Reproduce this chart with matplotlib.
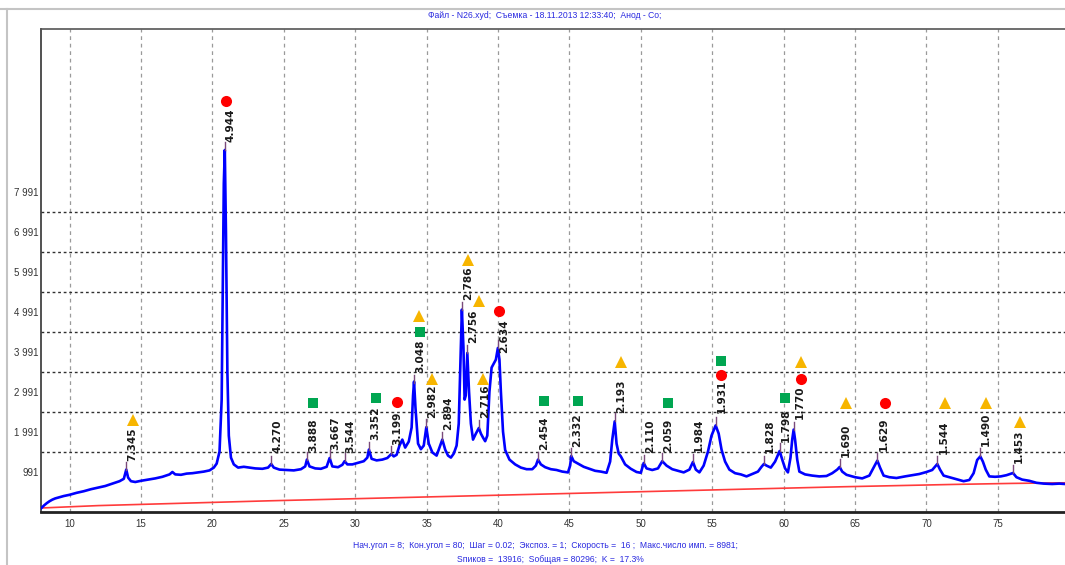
import matplotlib
matplotlib.use("Agg")
import matplotlib.pyplot as plt
from matplotlib.lines import Line2D

# ---------------- data ----------------
two_theta = [8.0, 8.2, 8.4, 8.6, 8.8, 9.0, 9.3, 9.6, 10.0, 10.5, 11.0, 11.5, 12.0, 12.5, 13.0, 13.5,
             13.8, 13.97, 14.1, 14.3, 14.6, 15.0, 15.5, 16.0, 16.5, 17.0, 17.2, 17.4, 17.8, 18.2, 18.6,
             19.0, 19.4, 19.8, 20.1, 20.3, 20.5, 20.65, 20.75, 20.8, 20.87, 20.95, 21.05, 21.15, 21.3,
             21.5, 21.8, 22.2, 22.6, 23.0, 23.5, 23.9, 24.12, 24.3, 24.7, 25.2, 25.7, 26.2, 26.5, 26.62,
             26.8, 27.2, 27.6, 28.0, 28.21, 28.4, 28.8, 29.1, 29.26, 29.45, 29.8, 30.2, 30.6, 30.85,
             30.96, 31.15, 31.5, 31.9, 32.25, 32.53, 32.7, 32.9, 33.1, 33.3, 33.5, 33.75, 33.95, 34.05,
             34.12, 34.22, 34.4, 34.6, 34.8, 34.98, 35.15, 35.4, 35.7, 35.9, 36.1, 36.3, 36.5, 36.7,
             36.9, 37.1, 37.25, 37.37, 37.47, 37.58, 37.66, 37.74, 37.85, 37.97, 38.1, 38.25, 38.45,
             38.66, 38.8, 38.95, 39.1, 39.25, 39.4, 39.55, 39.7, 39.85, 39.99, 40.1, 40.2, 40.35, 40.5,
             40.8, 41.2, 41.6, 42.0, 42.4, 42.65, 42.8, 43.0, 43.3, 43.7, 44.1, 44.5, 44.9, 45.05,
             45.13, 45.3, 45.6, 46.0, 46.4, 46.8, 47.2, 47.6, 47.85, 48.0, 48.17, 48.3, 48.45, 48.6,
             48.9, 49.3, 49.7, 50.0, 50.2, 50.4, 50.8, 51.2, 51.5, 51.8, 52.2, 52.6, 53.0, 53.4, 53.65,
             53.85, 54.1, 54.4, 54.7, 54.95, 55.24, 55.45, 55.65, 55.9, 56.2, 56.6, 57.0, 57.4, 57.8,
             58.2, 58.45, 58.62, 58.8, 59.1, 59.4, 59.72, 59.9, 60.1, 60.3, 60.48, 60.6, 60.7, 60.8,
             60.95, 61.1, 61.5, 62.0, 62.5, 63.0, 63.4, 63.75, 63.92, 64.1, 64.4, 65.0, 65.5, 66.0,
             66.3, 66.56, 66.75, 67.0, 67.4, 67.9, 68.5, 69.0, 69.5, 70.0, 70.4, 70.76, 70.95, 71.2,
             71.7, 72.2, 72.6, 73.0, 73.3, 73.55, 73.77, 73.95, 74.15, 74.4, 74.8, 75.2, 75.6, 76.06,
             76.3, 76.7, 77.2, 77.7, 78.2, 78.8, 79.3, 79.7]
counts = [80, 150, 210, 260, 300, 330, 360, 390, 420, 470, 510, 560, 600, 640, 700, 760,
          820, 1050, 850, 760, 740, 770, 800, 830, 870, 930, 990, 930, 920, 950, 960,
          980, 1000, 1030, 1100, 1200, 1500, 2800, 6500, 8200, 9040, 7000, 3500, 1900, 1350,
          1180, 1100, 1120, 1100, 1080, 1070, 1100, 1190, 1100, 1050, 1040, 1030, 1060, 1130, 1300,
          1130, 1080, 1070, 1120, 1340, 1130, 1110, 1170, 1260, 1180, 1180, 1220, 1260, 1350,
          1550, 1320, 1280, 1300, 1340, 1440, 1380, 1420, 1650, 1800, 1600, 1750, 2100, 2900,
          3250, 2600, 1700, 1560, 1650, 2110, 1700, 1480, 1400, 1600, 1800, 1550, 1400, 1350,
          1450, 1650, 2200, 3800, 5050, 4100, 2800, 2900, 3965, 3000, 2200, 1800, 1950,
          2090, 1950, 1850, 1760, 1900, 3000, 3600, 3700, 3800, 4090, 3800, 3000, 2000, 1540,
          1300, 1180, 1100, 1060, 1060, 1150, 1300, 1180, 1110, 1060, 1040, 1000, 980, 1150,
          1390, 1260, 1200, 1120, 1070, 1020, 1000, 970, 1250, 1800, 2255, 1700, 1450, 1380,
          1180, 1070, 990, 970, 1215, 1080, 1040, 1080, 1260, 1150, 1060, 1020, 980, 1050, 1240,
          1050, 980, 1150, 1500, 1900, 2155, 1950, 1550, 1250, 1050, 960, 930, 880, 940,
          1000, 1120, 1190, 1150, 1100, 1250, 1515, 1300, 1080, 980, 1350, 1800, 2050, 1800,
          1300, 1000, 930, 900, 880, 890, 960, 1050, 1115, 1000, 920, 860, 830, 900,
          1100, 1275, 1100, 900, 860, 840, 880, 910, 940, 990, 1040, 1190, 1050, 900,
          850, 800, 760, 790, 960, 1290, 1380, 1250, 1050, 880, 870, 880, 910, 965,
          860, 800, 770, 720, 700, 690, 700, 690]

bg_theta = [8.0, 12.0, 16.0, 20.0, 24.0, 28.0, 32.0, 36.0, 40.0, 44.0, 48.0, 52.0, 56.0,
            60.0, 64.0, 68.0, 72.0, 76.0, 79.7]
bg_counts = [90, 150, 190, 230, 270, 305, 340, 375, 410, 445, 480, 515, 550,
             585, 620, 650, 680, 705, 720]

peak_labels = ["7.345", "4.944", "4.270", "3.888", "3.667", "3.544", "3.352", "3.199", "3.048",
               "2.982", "2.894", "2.786", "2.756", "2.716", "2.634", "2.454", "2.332", "2.193",
               "2.110", "2.059", "1.984", "1.931", "1.828", "1.798", "1.770", "1.690", "1.629",
               "1.544", "1.490", "1.453"]
peak_theta = [13.97, 20.87, 24.12, 26.62, 28.21, 29.26, 30.96, 32.53, 34.12,
              34.98, 36.1, 37.47, 37.85, 38.66, 39.99, 42.8, 45.13, 48.17,
              50.2, 51.5, 53.65, 55.24, 58.62, 59.72, 60.7, 63.92, 66.56,
              70.76, 73.77, 76.06]
peak_top = [1250, 9240, 1390, 1500, 1540, 1460, 1750, 1640, 3415,
            2310, 2000, 5250, 4165, 2290, 4290, 1500, 1590, 2455,
            1415, 1460, 1440, 2355, 1390, 1715, 2250, 1315, 1475,
            1390, 1580, 1165]
label_base = [1265, 9240, 1458, 1500, 1540, 1458, 1790, 1665, 3460,
              2340, 2040, 5290, 4210, 2330, 3960, 1540, 1620, 2455,
              1458, 1500, 1500, 2455, 1458, 1750, 2310, 1373, 1523,
              1440, 1640, 1208]

tri_theta = [14.41, 34.5, 35.4, 37.89, 38.66, 38.94, 48.59, 61.19, 64.34, 71.27, 74.19, 76.53]
tri_counts = [2290, 4900, 3310, 6290, 5265, 3310, 3750, 3750, 2720, 2720, 2720, 2230]
sq_theta = [27.04, 31.43, 34.51, 43.22, 45.6, 51.9, 55.63, 60.11]
sq_counts = [2710, 2830, 4480, 2765, 2765, 2710, 3775, 2830]
circ_theta = [20.97, 32.92, 40.04, 55.63, 61.19, 67.12]
circ_counts = [10270, 2750, 5020, 3415, 3310, 2710]

x_ticks = [10, 15, 20, 25, 30, 35, 40, 45, 50, 55, 60, 65, 70, 75]
y_ticks = [991, 1991, 2991, 3991, 4991, 5991, 6991, 7991]
y_tick_labels = ["991", "1 991", "2 991", "3 991", "4 991", "5 991", "6 991", "7 991"]
y_grid = [1491, 2491, 3491, 4491, 5491, 6491, 7491]

title = "Файл - N26.xyd;  Съемка - 18.11.2013 12:33:40;  Анод - Co;"
footer1 = "Нач.угол = 8;  Кон.угол = 80;  Шаг = 0.02;  Экспоз. = 1;  Скорость =  16 ;  Макс.число имп. = 8981;"
footer2 = "Sпиков =  13916;  Sобщая = 80296;  K =  17.3%"

# ---------------- figure ----------------
W, H = 1065, 565
fig = plt.figure(figsize=(W / 100, H / 100), dpi=100)
ax = fig.add_axes([41 / W, 1 - 511.6 / H, (W - 41) / W, (511.6 - 29) / H])
ax.set_xlim(8, 79.7)
ax.set_ylim(0, 12065)

# grid
for g in x_ticks:
    ax.axvline(g, color="#9a9a9a", lw=0.9, ls=(0, (3, 3)), zorder=0)
for g in y_grid:
    ax.axhline(g, color="#303030", lw=1.0, ls=(0, (2, 2)), zorder=0)

ax.plot(bg_theta, bg_counts, color="#ff3b3b", lw=1.2, zorder=2)
ax.plot(two_theta, counts, color="#0000ff", lw=1.9, zorder=3)

# peak ticks and labels
for lab, t, top, base in zip(peak_labels, peak_theta, peak_top, label_base):
    ax.plot([t, t], [top - 200, top], color="#7a4a7a", lw=1.0, zorder=4)
    ax.annotate(lab, xy=(t, base), xytext=(6, 0), textcoords="offset pixels",
                rotation=90, ha="center", va="bottom", fontsize=7.6,
                fontweight="bold", color="#1a1a1a", family="DejaVu Sans", zorder=5)

ax.plot(tri_theta, tri_counts, ls="none", marker="^", ms=8.5, color="#f7b500",
        markeredgewidth=0, zorder=6)
ax.plot(sq_theta, sq_counts, ls="none", marker="s", ms=7.5, color="#00a651",
        markeredgewidth=0, zorder=6)
ax.plot(circ_theta, circ_counts, ls="none", marker="o", ms=8, color="#ff0000",
        markeredgewidth=0, zorder=6)

ax.set_xticks(x_ticks)
ax.set_xticklabels([str(v) for v in x_ticks])
ax.set_yticks(y_ticks)
ax.set_yticklabels(y_tick_labels)
ax.tick_params(axis="both", length=0, labelsize=7.0, colors="#333333",
               labelfontfamily="Liberation Sans")
ax.tick_params(axis="x", pad=5)
ax.tick_params(axis="y", pad=1.5)

ax.spines["right"].set_visible(False)
ax.spines["top"].set_color("#555555")
ax.spines["top"].set_linewidth(1.2)
ax.spines["left"].set_color("#333333")
ax.spines["left"].set_linewidth(1.2)
ax.spines["bottom"].set_color("#222222")
ax.spines["bottom"].set_linewidth(2.0)

# window frame
fig.add_artist(Line2D([0, 1], [1 - 9 / H, 1 - 9 / H], transform=fig.transFigure,
                      color="#c4c4c4", lw=1.5))
fig.add_artist(Line2D([7 / W, 7 / W], [0, 1 - 9 / H], transform=fig.transFigure,
                      color="#c4c4c4", lw=1.5))

fig.text(545 / W, 1 - 15 / H, title, ha="center", va="center", fontsize=6.2,
         color="#2a2ae0", family="Liberation Sans")
fig.text(545 / W, 1 - 546 / H, footer1, ha="center", va="center", fontsize=6.2,
         color="#2a2ae0", family="Liberation Sans")
fig.text(550 / W, 1 - 560 / H, footer2, ha="center", va="center", fontsize=6.2,
         color="#2a2ae0", family="Liberation Sans")

fig.savefig("out.png", dpi=100)
